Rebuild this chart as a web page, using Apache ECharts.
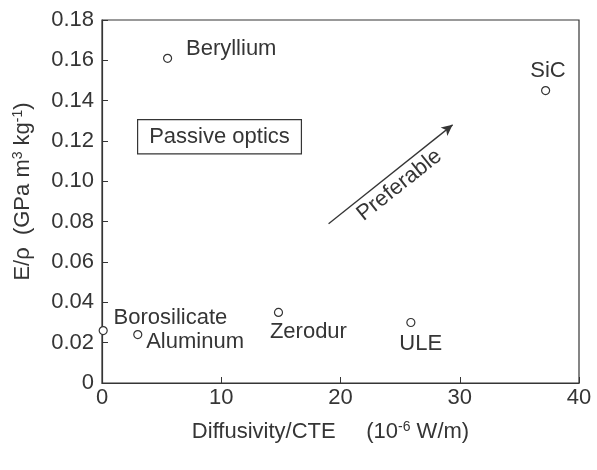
<!DOCTYPE html>
<html>
<head>
<meta charset="utf-8">
<script src="https://cdn.jsdelivr.net/npm/echarts@6/dist/echarts.min.js"></script>
<style>
  html, body { margin: 0; padding: 0; background: #fff; }
  #chart { width: 597px; height: 470px; }
</style>
</head>
<body>
<div id="chart"></div>
<script>
// Materials for passive optics: stiffness-to-density vs thermal figure of merit
const materials = ['Beryllium', 'SiC', 'Borosilicate', 'Aluminum', 'Zerodur', 'ULE'];
const diffusivityCTE = [5.5, 37.2, 0.1, 3.0, 14.8, 25.9];
const specificStiffness = [0.161, 0.145, 0.026, 0.024, 0.035, 0.030];

const xTicks = [0, 10, 20, 30, 40];
const yTicks = [0, 0.02, 0.04, 0.06, 0.08, 0.10, 0.12, 0.14, 0.16, 0.18];

// Direction arrow: start and end in data units
const arrowStart = [19.0, 0.079];
const arrowEnd = [29.4, 0.128];

const ink = '#353535';
const font = 'Liberation Sans, Arial, Helvetica, sans-serif';
const fs = 22;

// Label anchor relative to each marker's box (8px symbol)
const labelLayout = {
  Beryllium:    { position: [23, -5], align: 'left' },
  SiC:          { position: [7, -15], align: 'center' },
  Borosilicate: { position: [15, -8], align: 'left' },
  Aluminum:     { position: [13, 12], align: 'left' },
  Zerodur:      { position: [-4, 24], align: 'left' },
  ULE:          { position: [-7, 26], align: 'left' }
};

const points = materials.map((name, i) => ({
  name: name,
  value: [diffusivityCTE[i], specificStiffness[i]],
  label: Object.assign({ show: true, formatter: '{b}', verticalAlign: 'middle' }, labelLayout[name])
}));

const supStyle = { fontSize: 14, color: ink, fontFamily: font, verticalAlign: 'top', padding: [0, 0, 9, 0] };

const chart = echarts.init(document.getElementById('chart'));
chart.setOption({
  animation: false,
  backgroundColor: '#fff',
  grid: { left: 102, right: 18, top: 20, bottom: 87, show: true, borderColor: ink, borderWidth: 1.2 },
  textStyle: { fontFamily: font },
  xAxis: {
    type: 'value',
    min: xTicks[0], max: xTicks[xTicks.length - 1], interval: 10,
    name: 'Diffusivity/CTE     (10{sup|-6} W/m)',
    nameLocation: 'middle', nameGap: 37,
    nameTextStyle: { color: ink, fontSize: fs, fontFamily: font, padding: [0, 20, 0, 0], rich: { sup: supStyle } },
    axisLine: { show: true, lineStyle: { color: ink, width: 1.2 } },
    axisTick: { show: true, inside: true, length: 6, lineStyle: { color: ink } },
    axisLabel: { color: ink, fontSize: fs, margin: 4, fontFamily: font },
    splitLine: { show: false }
  },
  yAxis: {
    type: 'value',
    min: yTicks[0], max: yTicks[yTicks.length - 1], interval: 0.02,
    name: 'E/\u03c1  (GPa m{sup|3} kg{sup|-1})',
    nameLocation: 'middle', nameGap: 68,
    nameTextStyle: { color: ink, fontSize: fs, fontFamily: font, padding: [0, 0, 0, 20], rich: { sup: supStyle } },
    axisLine: { show: true, lineStyle: { color: ink, width: 1.2 } },
    axisTick: { show: true, inside: true, length: 6, lineStyle: { color: ink } },
    axisLabel: {
      color: ink, fontSize: fs, margin: 8, fontFamily: font,
      formatter: v => (Math.abs(v) < 1e-9 ? '0' : v.toFixed(2))
    },
    splitLine: { show: false }
  },
  series: [{
    type: 'scatter',
    symbol: 'circle',
    symbolSize: 8,
    clip: false,
    itemStyle: { color: '#fff', borderColor: ink, borderWidth: 1.2, opacity: 1 },
    label: { color: ink, fontSize: fs, fontFamily: font },
    data: points,
    markLine: {
      silent: true,
      symbol: ['none', 'arrow'],
      symbolSize: [8, 11],
      lineStyle: { color: ink, width: 1.3, type: 'solid' },
      label: {
        show: true, position: 'insideMiddleBottom', formatter: 'Preferable',
        color: ink, fontSize: fs, fontFamily: font, distance: 3
      },
      data: [[{ coord: arrowStart }, { coord: arrowEnd }]]
    }
  }],
  graphic: [{
    type: 'text',
    left: 137, top: 119,
    style: {
      text: 'Passive optics',
      fill: ink, fontSize: fs, fontFamily: font,
      borderColor: ink, borderWidth: 1.2,
      padding: [6, 11, 5, 11], backgroundColor: '#fff'
    }
  }]
});
</script>
</body>
</html>
